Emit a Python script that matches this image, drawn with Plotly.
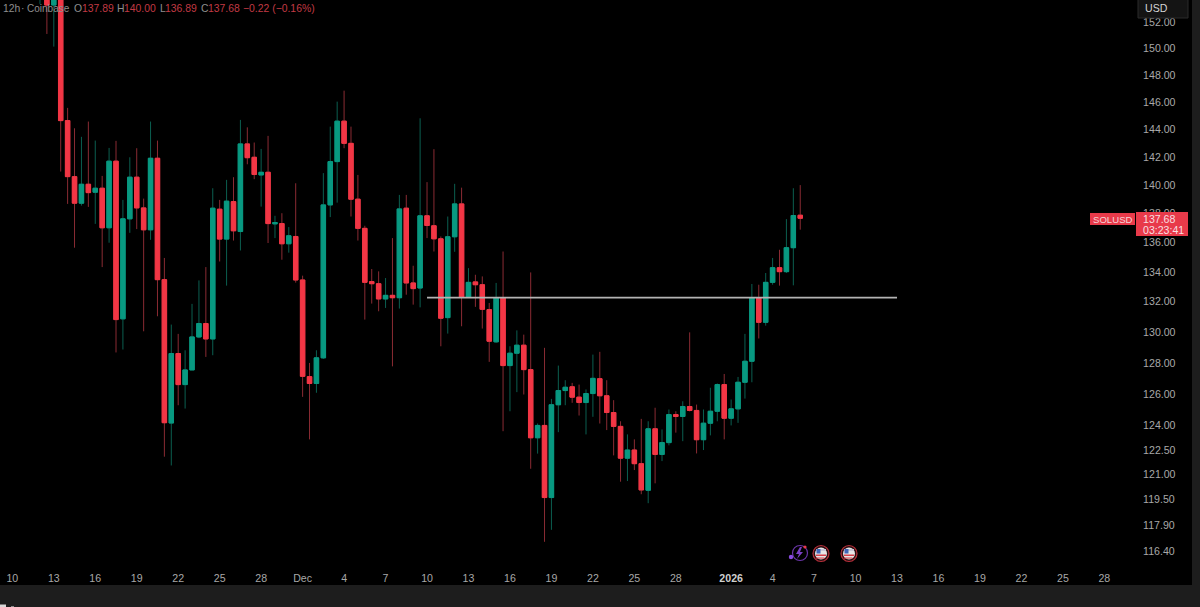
import math
import pandas as pd
import plotly.graph_objects as go

W, H = 1200, 607
L, R, T, B = 0, 1132, 0, 565

first_bar = "2025-11-12 00:00"
opens = [154.5,155,153.31,156.5,
 144.63,140.60,138.73,140.06,139.50,139.78,137.02,141.70,130.87,137.64,
 140.56,138.40,136.88,141.91,133.48,124.17,128.60,126.60,127.54,129.68,
 130.56,129.55,138.31,136.24,138.84,136.76,142.94,141.98,140.72,140.91,
 137.29,137.31,135.92,136.42,133.46,127.11,126.67,128.32,138.61,141.67,
 144.59,142.98,139.01,136.98,133.35,133.21,132.19,132.43,132.27,138.38,
 133.26,132.92,137.85,137.16,136.26,130.95,136.40,138.68,132.32,133.33,
 133.14,131.48,129.36,132.25,127.82,128.62,129.14,127.56,123.25,124.02,
 119.59,125.32,126.22,126.46,125.80,125.46,126.03,126.98,125.89,124.83,
 123.96,121.99,122.49,121.65,120.03,123.81,122.22,122.95,124.70,124.58,
 125.21,124.96,123.13,124.16,124.91,126.60,124.47,125.06,126.75,128.10,
 132.25,130.64,133.30,134.29,134.02,135.65,137.89]
closes = [156,153.31,156.5,144.63,
 140.60,138.73,140.06,139.47,139.78,137.02,141.70,130.82,137.64,140.56,
 138.40,136.88,141.91,133.48,124.19,128.60,126.60,127.54,129.68,130.56,
 129.55,138.38,136.24,138.87,136.81,142.94,141.95,140.75,140.91,137.31,
 137.38,135.92,136.47,133.46,127.13,126.67,128.32,138.61,141.67,144.59,
 142.98,139.01,136.98,133.30,133.21,132.19,132.43,132.27,138.33,133.26,
 132.88,137.85,137.18,136.26,130.91,136.40,138.68,132.32,133.30,133.14,
 131.50,129.40,132.25,127.82,128.62,129.14,127.56,123.25,124.02,119.59,
 125.32,126.22,126.43,125.80,125.46,126.03,127.00,125.89,124.83,123.96,
 121.99,122.49,121.65,120.05,123.81,122.22,122.95,124.70,124.58,125.21,
 124.96,123.13,124.16,124.91,126.60,124.47,125.06,126.75,128.10,132.25,
 130.64,133.30,134.29,134.02,135.65,137.87,137.68]
highs = [157,156,157,157,
 145.56,144.07,143.45,144.56,143.18,140.65,142.65,143.16,138.96,141.98,
 142.63,139.05,144.56,143.18,134.95,130.49,129.88,128.81,131.86,133.43,
 134.33,139.78,138.96,140.37,140.56,144.68,144.14,143.04,142.58,143.52,
 137.85,138.03,137.07,140.13,133.75,127.99,128.81,140.85,144.19,146.02,
 146.83,144.19,140.72,137.16,134.20,134.04,133.59,136.31,139.31,139.31,
 134.42,144.80,140.21,142.56,136.42,137.80,140.09,139.82,134.26,133.81,
 133.70,131.92,133.26,135.39,129.07,130.11,129.83,133.97,124.14,128.97,
 125.69,127.82,126.88,126.71,126.60,126.29,128.53,128.71,126.88,125.61,
 124.28,123.46,123.15,124.43,124.28,125.13,123.77,125.02,124.91,125.54,
 129.98,125.33,125.02,126.40,126.67,127.28,125.65,127.09,129.88,133.19,
 133.14,133.93,134.95,135.51,137.62,139.78,140.00]
lows = [153.4,151.09,150.13,140.96,
 138.68,135.65,138.56,138.47,137.29,134.33,135.99,128.67,128.86,136.67,
 136.93,130.05,136.19,131.04,122.08,121.54,125.29,125.08,127.54,129.60,
 128.38,128.49,134.71,133.08,136.14,135.46,141.48,140.42,138.49,135.97,
 136.31,134.83,135.31,133.28,125.82,123.15,126.08,128.25,137.76,138.77,
 142.63,137.80,136.14,130.82,131.88,131.37,131.59,127.77,131.55,132.47,
 131.81,131.63,136.31,135.39,129.07,129.90,135.37,130.38,132.25,131.66,
 130.23,128.06,129.30,123.66,124.91,126.12,125.97,121.34,122.27,116.95,
 117.66,123.60,125.29,125.44,124.64,123.46,124.56,124.14,123.73,122.16,
 120.55,120.59,121.26,119.79,119.25,120.45,121.81,122.78,123.57,123.04,
 124.90,122.28,122.49,123.40,124.28,123.15,124.02,124.18,125.71,126.75,
 129.58,130.42,133.14,133.08,133.93,133.10,136.89]

price_ticks = [152,150,148,146,144,142,140,138,136,134,132,130,128,126,124,122.5,121,119.5,117.9,116.4]
price_labels = [f"{p:.2f}" for p in price_ticks]
time_ticks = ["2025-11-10","2025-11-13","2025-11-16","2025-11-19","2025-11-22","2025-11-25","2025-11-28",
              "2025-12-01","2025-12-04","2025-12-07","2025-12-10","2025-12-13","2025-12-16","2025-12-19",
              "2025-12-22","2025-12-25","2025-12-28","2026-01-01","2026-01-04","2026-01-07","2026-01-10",
              "2026-01-13","2026-01-16","2026-01-19","2026-01-22","2026-01-25","2026-01-28"]
time_labels = ["10","13","16","19","22","25","28","Dec","4","7","10","13","16","19","22","25","28",
               "<span style='color:#cfcfcf'><b>2026</b></span>","4","7","10","13","16","19","22","25","28"]
level_price = 132.28
level_start, level_end = "2025-12-10", "2026-01-13"

UP, DOWN = "#089981", "#f23645"
UP_WICK, DOWN_WICK = "#0b5f50", "#8a2b33"
PANEL = "#1d1d1d"
TXT = "#a8a8a8"
FONT = "Liberation Sans"

dates = pd.date_range(first_bar, periods=len(opens), freq="12h")
body_hi = [max(a, b) for a, b in zip(opens, closes)]
body_lo = [min(a, b) for a, b in zip(opens, closes)]

fig = go.Figure()
fig.add_trace(go.Candlestick(x=dates, open=opens, high=highs, low=lows, close=closes,
    whiskerwidth=0, hoverinfo="skip", showlegend=False,
    increasing=dict(line=dict(color=UP_WICK, width=1), fillcolor=UP),
    decreasing=dict(line=dict(color=DOWN_WICK, width=1), fillcolor=DOWN)))
fig.add_trace(go.Candlestick(x=dates, open=opens, high=body_hi, low=body_lo, close=closes,
    whiskerwidth=0, hoverinfo="skip", showlegend=False,
    increasing=dict(line=dict(color=UP, width=1), fillcolor=UP),
    decreasing=dict(line=dict(color=DOWN, width=1), fillcolor=DOWN)))

def px(x):
    return (x - L) / (R - L)
def py(y):
    return (B - y) / (B - T)

shapes, annos = [], []
def rect(x0, y0, x1, y1, fill, line=None, layer="above", lw=1):
    shapes.append(dict(type="rect", xref="paper", yref="paper", x0=px(x0), x1=px(x1), y0=py(y0), y1=py(y1),
                       fillcolor=fill, line=dict(color=line or fill, width=lw if line else 0), layer=layer))
def circle(cx, cy, r, fill, line=None, lw=1):
    shapes.append(dict(type="circle", xref="paper", yref="paper", x0=px(cx-r), x1=px(cx+r), y0=py(cy+r), y1=py(cy-r),
                       fillcolor=fill, line=dict(color=line or fill, width=lw if line else 0), layer="above"))
def text(x, y, s, color=TXT, size=10.6, anchor="left"):
    annos.append(dict(xref="paper", yref="paper", x=px(x), y=py(y), text=s, showarrow=False, xanchor=anchor,
                      yanchor="middle", xshift=0, borderpad=0, borderwidth=0,
                      font=dict(family=FONT, size=size, color=color)))

# black chart surface inside the dark panel
rect(0, 0, 1192, 585, "#000000", layer="below")
# horizontal level
shapes.append(dict(type="line", xref="x", yref="y", x0=level_start, x1=level_end, y0=level_price, y1=level_price,
                   line=dict(color="#b4b4b4", width=1.6), layer="above"))

# header
HDIM = "#8e8e8e"; HRED = "#c23a44"
for x, s, c, fs in [(3,"12h",HDIM,10.4),(21,"·",HDIM,10.4),(27,"Coinbase",HDIM,10),(74,"O",HDIM,10.4),(82,"137.89",HRED,10.4),
                (117,"H",HDIM,10.4),(124,"140.00",HRED,10.4),(160,"L",HDIM,10.4),(165,"136.89",HRED,10.4),
                (201,"C",HDIM,10.4),(208,"137.68",HRED,10.4),(243,"−0.22 (−0.16%)",HRED,10.4)]:
    text(x, 8, s, c, fs)

# USD box
rect(1138, -3, 1188, 18, "#141414", "#2b2b2b")
text(1145, 8, "USD", "#d4d4d4", 10.6)

# last-price tags
rect(1090, 213, 1135, 225, "#e83a4a")
text(1093, 219, "SOLUSD", "#f6d5d8", 9.6)
rect(1136, 212, 1188, 236, "#e83a4a")
text(1143, 219, "137.68", "#f8dfe1", 10.6)
text(1143, 230, "03:23:41", "#f8dfe1", 10.6)

# event icons
shapes.append(dict(type="path", xref="paper", yref="paper",
    path=" ".join(f"{c}{px(x):.5f},{py(y):.5f}" for c, x, y in
        [("M",800,547),("L",796,554),("L",799,554),("L",797,559),("L",803,552),("L",800,552),("L",802,547)]) + " Z",
    fillcolor="#7a3fc4", line=dict(width=0), layer="above"))
circle(800, 553, 7.5, "rgba(0,0,0,0)", "#6a35a8", 1.2)
circle(791, 557, 2.2, "#8a4be0")
circle(805, 547, 1.6, "#e8394a")
for cx in (821, 849):
    circle(cx, 553.5, 8, "#2a0f12", "#b52f3a", 1.2)
    circle(cx, 553.5, 6, "#e6e6e6")
    rect(cx-5, 549, cx+5, 551, "#c9c9d8")
    rect(cx-5, 554.5, cx+5, 556, "#d7404b")
    rect(cx-5, 557.5, cx+3.5, 558.6, "#d7404b")
    rect(cx-4.5, 549, cx-0.5, 553.5, "#3f66b8")

# cropped fragment in the bottom-left corner of the screenshot
rect(0, 604.5, 6, 607, "#d8d8d8")
rect(11, 606, 14, 607, "#8a8a8a")

fig.update_layout(
    width=W, height=H, autosize=False, boxgap=0.08,
    margin=dict(l=L, r=W-R, t=T, b=H-B, pad=0),
    paper_bgcolor=PANEL, plot_bgcolor="rgba(0,0,0,0)",
    showlegend=False, shapes=shapes, annotations=annos,
    font=dict(family=FONT, size=11, color=TXT),
    xaxis=dict(type="date", range=["2025-11-09 02:36", "2026-01-30 00:00"], rangeslider=dict(visible=False),
               tickmode="array", tickvals=time_ticks, ticktext=time_labels, showgrid=False, zeroline=False,
               showline=False, ticks="outside", ticklen=3, tickcolor="rgba(0,0,0,0)",
               tickfont=dict(family=FONT, size=10.6, color=TXT)),
    yaxis=dict(type="log", side="right", range=[math.log10(115.59), math.log10(153.70)],
               tickmode="array", tickvals=price_ticks, ticktext=price_labels, showgrid=False, zeroline=False,
               showline=False, ticks="outside", ticklen=8, tickcolor="rgba(0,0,0,0)",
               tickfont=dict(family=FONT, size=10.6, color=TXT)),
)
fig.write_html("out.html", config=dict(displayModeBar=False), post_script="document.body.style.margin='0';")
